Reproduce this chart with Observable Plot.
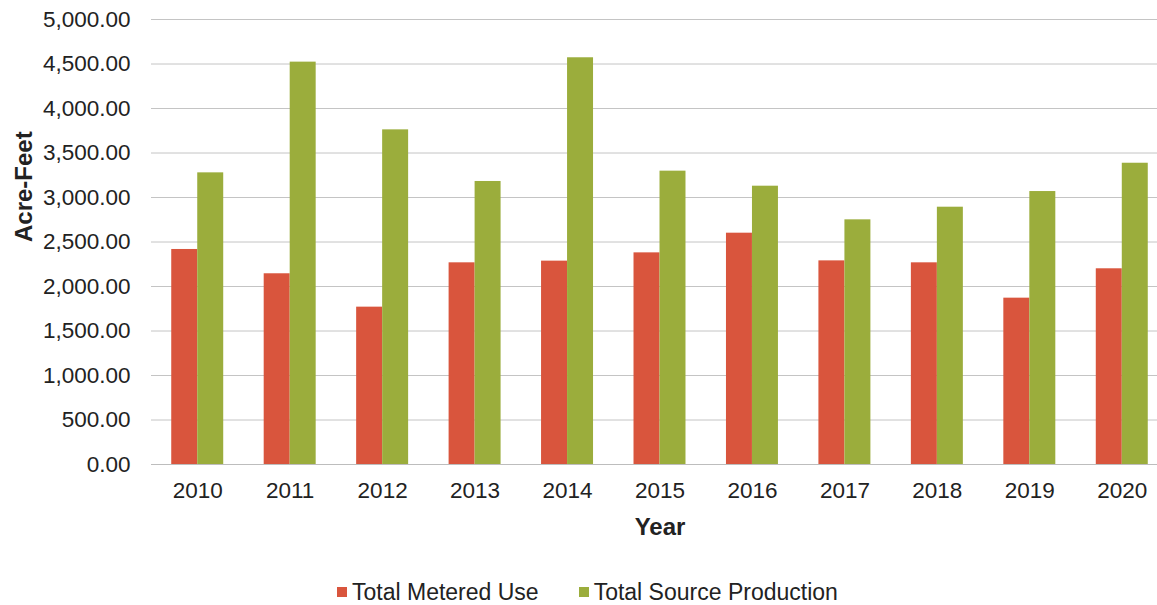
<!DOCTYPE html>
<html>
<head>
<meta charset="utf-8">
<script src="https://cdn.jsdelivr.net/npm/d3@7"></script>
<script src="https://cdn.jsdelivr.net/npm/@observablehq/plot@0.6"></script>
<style>
  html, body { margin: 0; padding: 0; background: #fff; overflow: hidden; }
  body { font-family: "Liberation Sans", Arial, sans-serif; width: 1157px; height: 605px; position: relative; }
  #chart { position: absolute; left: 0; top: 0; width: 1168px; }
  #chart svg { max-width: none !important; width: 1168px !important; height: 545px !important; }
  #legend { position: absolute; left: 337px; top: 580px; height: 24px;
            display: flex; align-items: center; font-size: 23px; color: #222; white-space: nowrap; }
  .item { display: flex; align-items: center; }
  .item + .item { margin-left: 40px; }
  .sw { width: 10px; height: 10px; margin-right: 5px; }
</style>
</head>
<body>
<div id="chart"></div>
<div id="legend"></div>
<script>
const years = ["2010","2011","2012","2013","2014","2015","2016","2017","2018","2019","2020"];
const meteredUse = [2416, 2143, 1768, 2266, 2285, 2378, 2599, 2288, 2266, 1869, 2199];
const sourceProduction = [3277, 4521, 3760, 3180, 4570, 3296, 3127, 2749, 2891, 3067, 3385];
const seriesNames = ["Total Metered Use", "Total Source Production"];
const seriesColors = ["#d9553d", "#9bad3c"];
const yTicks = [0, 500, 1000, 1500, 2000, 2500, 3000, 3500, 4000, 4500, 5000];

const metered = years.map((y, i) => ({year: y, value: meteredUse[i], series: seriesNames[0]}));
const production = years.map((y, i) => ({year: y, value: sourceProduction[i], series: seriesNames[1]}));

const fmt = d3.format(",.2f");

const chart = Plot.plot({
  width: 1168,
  height: 545,
  marginLeft: 151,
  marginRight: 0,
  marginTop: 19,
  marginBottom: 81,
  style: {fontFamily: "'Liberation Sans', Arial, sans-serif", color: "#222", background: "#fff", maxWidth: "none"},
  x: {type: "band", domain: years, paddingInner: 0.719, paddingOuter: 0.3595, round: false},
  y: {domain: [0, 5000]},
  marks: [
    Plot.gridY(yTicks, {stroke: "#c4c4c4", strokeOpacity: 1}),
    Plot.barY(metered, {x: "year", y: "value", fill: seriesColors[0], dx: -13}),
    Plot.barY(production, {x: "year", y: "value", fill: seriesColors[1], dx: 13}),
    Plot.ruleY([0], {stroke: "#bdbdbd"}),
    Plot.axisY(yTicks, {tickSize: 0, tickPadding: 21, tickFormat: fmt, fontSize: 22.5, label: null, fill: "#222"}),
    Plot.axisX({tickSize: 0, tickPadding: 18, fontSize: 22.5, label: null, fill: "#222"}),
    Plot.text(["Year"], {text: d => d, frameAnchor: "bottom", lineAnchor: "middle", dy: 63, fontSize: 24, fontWeight: "bold", fill: "#222"}),
    Plot.text(["Acre-Feet"], {text: d => d, frameAnchor: "left", lineAnchor: "middle", rotate: -90, dx: -127, fontSize: 24, fontWeight: "bold", fill: "#222"})
  ]
});
document.getElementById("chart").appendChild(chart);

const legend = document.getElementById("legend");
seriesNames.forEach((name, i) => {
  const item = document.createElement("div");
  item.className = "item";
  const sw = document.createElement("span");
  sw.className = "sw";
  sw.style.background = seriesColors[i];
  const label = document.createElement("span");
  label.textContent = name;
  item.appendChild(sw);
  item.appendChild(label);
  legend.appendChild(item);
});
</script>
</body>
</html>
